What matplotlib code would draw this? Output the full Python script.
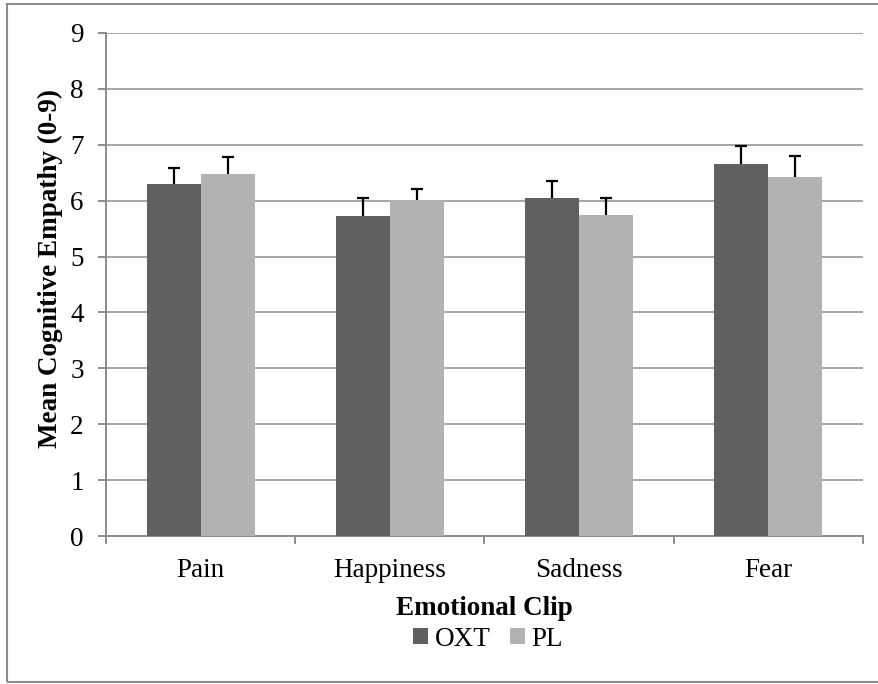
import matplotlib
matplotlib.use("Agg")
import matplotlib.pyplot as plt
from matplotlib.patches import Rectangle, Patch
import numpy as np

categories = ["Pain", "Happiness", "Sadness", "Fear"]
oxt_values = [6.30, 5.72, 6.04, 6.65]
oxt_err = [0.28, 0.32, 0.31, 0.33]
pl_values = [6.47, 6.01, 5.75, 6.42]
pl_err = [0.31, 0.19, 0.30, 0.38]
series_names = ["OXT", "PL"]
y_ticks = list(range(0, 10))

plt.rcParams['font.family'] = ['Liberation Serif', 'DejaVu Serif']
FS = 19.5

fig = plt.figure(figsize=(8.79, 6.84), dpi=100)
fig.patches.append(Rectangle((7/879, 1-682/684), 0.999, (682-4)/684,
                             transform=fig.transFigure, fill=False,
                             edgecolor='#8c8c8c', linewidth=1.5))
ax = fig.add_axes([106/879, 1-536/684, (863-106)/879, (536-33)/684])

x = np.arange(len(categories))
w = 0.285
c_oxt = '#606060'
c_pl = '#b2b2b2'
ax.bar(x - w/2, oxt_values, w, color=c_oxt, zorder=3)
ax.bar(x + w/2, pl_values, w, color=c_pl, zorder=3)

for xs, vals, errs in [(x - w/2, oxt_values, oxt_err), (x + w/2, pl_values, pl_err)]:
    tops = np.array(vals) + np.array(errs)
    ax.vlines(xs, vals, tops, color='black', linewidth=1.6, zorder=4)
    ax.plot(xs, tops, linestyle='none', marker='_', markersize=9,
            markeredgewidth=1.6, color='black', zorder=4)

ax.set_xlim(-0.5, len(categories) - 0.5)
ax.set_ylim(0, 9)
ax.set_yticks(y_ticks)
ax.yaxis.grid(True, color='#a6a6a6', linewidth=1.4, zorder=0)
ax.set_axisbelow(True)
for s in ['top', 'right']:
    ax.spines[s].set_visible(False)
for s in ['left', 'bottom']:
    ax.spines[s].set_color('#8c8c8c')
    ax.spines[s].set_linewidth(1.4)

ax.set_xticks(x)
ax.set_xticklabels(categories)
ax.set_xticks(np.arange(-0.5, len(categories)), minor=True)
ax.tick_params(axis='x', which='major', length=0, pad=16, labelsize=FS)
ax.tick_params(axis='x', which='minor', length=6, width=1.4, color='#8c8c8c', direction='out')
ax.tick_params(axis='y', length=6, width=1.4, color='#8c8c8c', pad=10, labelsize=FS)

ax.set_xlabel("Emotional Clip", fontsize=FS, fontweight='bold', labelpad=9)
fig.text(50/879, 1-268/684, "Mean Cognitive Empathy (0-9)", rotation=90,
         ha='center', va='center', fontsize=FS, fontweight='bold')

handles = [Patch(facecolor=c_oxt), Patch(facecolor=c_pl)]
fig.legend(handles, series_names, loc='center', bbox_to_anchor=(488/879, 1-639/684),
           ncol=2, frameon=False, fontsize=FS, handlelength=0.55, handleheight=0.55,
           handletextpad=0.25, columnspacing=0.7, borderpad=0, borderaxespad=0)

fig.savefig("out.png", dpi=100)
